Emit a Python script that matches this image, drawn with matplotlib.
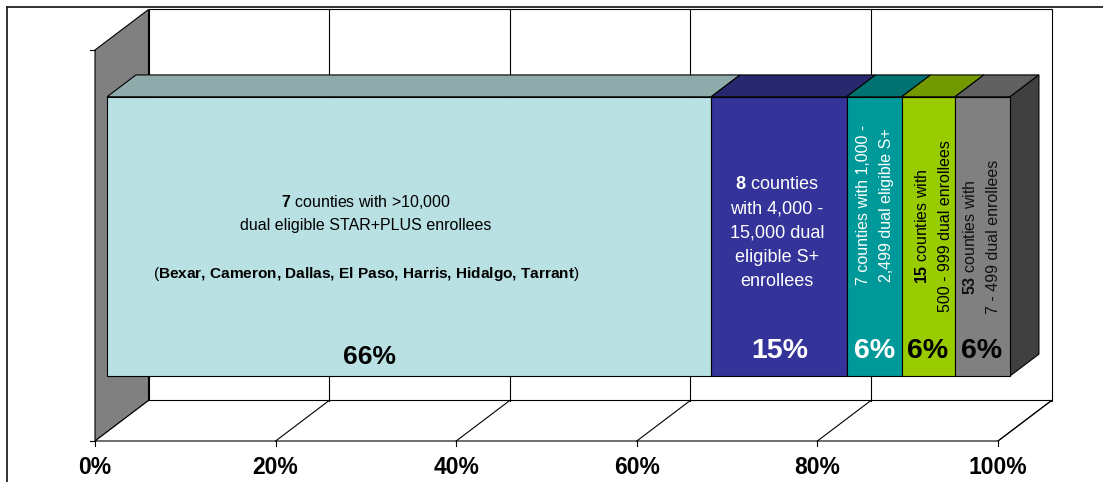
import matplotlib
matplotlib.use("Agg")
import matplotlib.pyplot as plt
from matplotlib.patches import Polygon
from matplotlib.lines import Line2D

# ---------------- data ----------------
groups = ["> 10,000", "4,000 - 15,000", "1,000 - 2,499", "500 - 999", "7 - 499"]
shares = [66.9, 15.0, 6.1, 5.9, 6.1]          # percent of dual eligible S+ enrollees
pct_labels = ["66%", "15%", "6%", "6%", "6%"]
tick_values = [0, 20, 40, 60, 80, 100]
tick_labels = ["0%", "20%", "40%", "60%", "80%", "100%"]

seg1_lines = [r"$\mathbf{7}$ counties with >10,000",
              "dual eligible STAR+PLUS enrollees",
              r"($\mathbf{Bexar{,}\ Cameron{,}\ Dallas{,}\ El\ Paso{,}\ Harris{,}\ Hidalgo{,}\ Tarrant}$)"]
seg2_lines = [r"$\mathbf{8}$ counties", "with 4,000 -", "15,000 dual", "eligible S+", "enrollees"]
seg3_lines = ["7 counties with 1,000 -", "2,499 dual eligible S+"]
seg4_lines = [r"$\mathbf{15}$ counties with", "500 - 999 dual enrollees"]
seg5_lines = [r"$\mathbf{53}$ counties with", "7 - 499 dual enrollees"]

front_colors = ["#B9E0E3", "#333399", "#009999", "#99CC00", "#808080"]
top_colors = ["#8FAAAB", "#28286E", "#007272", "#739900", "#606060"]
side_color = "#404040"
text_colors = ["black", "white", "white", "black", "#111111"]

# ---------------- style ----------------
plt.rcParams['font.family'] = ['Liberation Sans', 'DejaVu Sans']
plt.rcParams['mathtext.fontset'] = 'custom'
plt.rcParams['mathtext.rm'] = 'Liberation Sans'
plt.rcParams['mathtext.bf'] = 'Liberation Sans:bold'
plt.rcParams['mathtext.it'] = 'Liberation Sans:italic'
plt.rcParams['mathtext.sf'] = 'Liberation Sans'

W, H = 1103, 482
fig = plt.figure(figsize=(W / 100, H / 100), dpi=100)
ax = fig.add_axes([0, 0, 1, 1])
X0, SX, Y0, SY = 95.0, 9.03, 441.0, 391.0      # plot-area mapping (front plane)
ax.set_xlim(-X0 / SX, (W - X0) / SX)
ax.set_ylim((Y0 - H) / SY, Y0 / SY)
ax.axis('off')

DX, DY = 53.5 / SX, 40.5 / SY   # depth vector of the 3-D box
f0, f1 = 0.225, 0.765           # bar depth (fraction of box depth)
bar_lo, bar_hi = 0.143, 0.857   # bar extent within the single category
LW = 0.8


def P(x, y, f):
    return (x + f * DX, y + f * DY)


def px2d(px, py):
    return ((px - X0) / SX, (Y0 - py) / SY)


def poly(pts, fc, z=1):
    ax.add_patch(Polygon(pts, closed=True, facecolor=fc, edgecolor="black",
                         linewidth=LW, joinstyle="miter", zorder=z))


# outer chart frame
fig.add_artist(Line2D([7 / W, 7 / W], [0, 1 - 7 / H], color="#222222", lw=1.3))
fig.add_artist(Line2D([7 / W, 1], [1 - 7 / H, 1 - 7 / H], color="#222222", lw=1.3))

# walls and floor
poly([P(0, 0, 1), P(100, 0, 1), P(100, 1, 1), P(0, 1, 1)], "white", 1)
poly([P(0, 0, 0), P(0, 0, 1), P(0, 1, 1), P(0, 1, 0)], "#808080", 1)
poly([P(0, 0, 0), P(100, 0, 0), P(100, 0, 1), P(0, 0, 1)], "white", 1)
for t in tick_values[1:-1]:
    ax.plot(*zip(P(t, 0, 1), P(t, 1, 1)), color="black", lw=LW, zorder=1.5)
for t in tick_values[1:]:
    ax.plot(*zip(P(t, 0, 0), P(t, 0, 1)), color="black", lw=LW, zorder=1.5)
# ticks
for t in tick_values:
    ax.plot([t, t], [0, -5 / SY], color="black", lw=LW, zorder=1.5)
for yv in (0, 1):
    ax.plot([-5 / SX, 0], [yv, yv], color="black", lw=LW, zorder=1.5)
for t, lab in zip(tick_values, tick_labels):
    ax.text(t, (Y0 - 468) / SY, lab, ha="center", va="center",
            fontsize=16.5, fontweight="bold", color="black")

# stacked 3-D bar
left = 0.0
for i, v in enumerate(shares):
    r = left + v
    poly([P(left, bar_hi, f0), P(r, bar_hi, f0), P(r, bar_hi, f1), P(left, bar_hi, f1)],
         top_colors[i], 2)
    poly([P(left, bar_lo, f0), P(r, bar_lo, f0), P(r, bar_hi, f0), P(left, bar_hi, f0)],
         front_colors[i], 3)
    left = r
poly([P(left, bar_lo, f0), P(left, bar_lo, f1), P(left, bar_hi, f1), P(left, bar_hi, f0)],
     side_color, 2)

# ---------------- labels ----------------
def txt(s, px, py, size, color, rot=0, weight="normal"):
    x, y = px2d(px, py)
    ax.text(x, y, s, ha="center", va="center", fontsize=size, color=color,
            rotation=rot, fontweight=weight, zorder=5)


for s, py, sz in zip(seg1_lines, [202, 226, 274], [11.5, 11.5, 11.1]):
    txt(s, 366, py, sz, text_colors[0])
for s, py in zip(seg2_lines, [185, 209, 233, 258, 282]):
    txt(s, 777, py, 13, text_colors[1])
for lines, xs, yc, col in [(seg3_lines, [863, 887], 205, text_colors[2]),
                           (seg4_lines, [922, 945], 226, text_colors[3]),
                           (seg5_lines, [970, 993], 237, text_colors[4])]:
    for s, px in zip(lines, xs):
        txt(s, px, yc, 11.5, col, rot=90)

pct_pos = [(370, 357, 19), (780, 351, 20.5), (875, 351, 20.5), (928, 351, 20.5), (982, 351, 20.5)]
pct_colors = ["black", "white", "white", "black", "black"]
for lab, (px, py, sz), col in zip(pct_labels, pct_pos, pct_colors):
    txt(lab, px, py, sz, col, weight="bold")

fig.savefig("out.png", dpi=100)
